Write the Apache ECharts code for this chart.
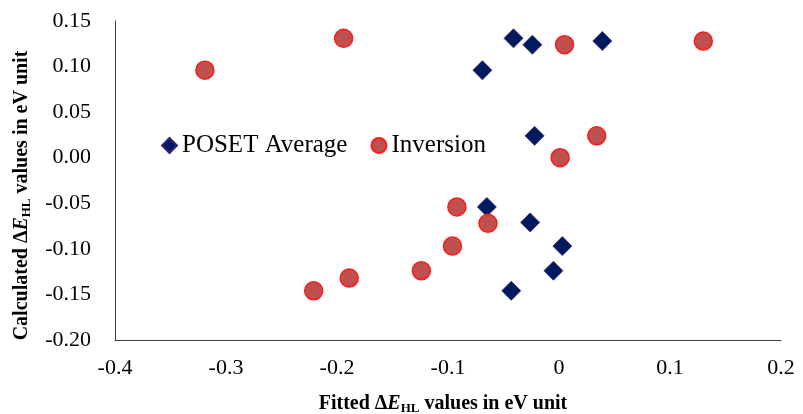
<!DOCTYPE html>
<html>
<head>
<meta charset="utf-8">
<script src="https://cdn.jsdelivr.net/npm/echarts@6/dist/echarts.min.js"></script>
<style>
  html, body { margin: 0; padding: 0; background: #fff; }
  #chart { width: 803px; height: 414px; }
</style>
</head>
<body>
<div id="chart"></div>
<script>
// data: fitted (x) and calculated (y) values
var posetX = [-0.041, -0.024, 0.039, -0.069, -0.022, -0.065, -0.026, 0.003, -0.005, -0.043];
var posetY = [0.131, 0.124, 0.128, 0.096, 0.024, -0.054, -0.071, -0.097, -0.124, -0.146];
var invX = [-0.319, -0.194, 0.005, 0.130, 0.034, 0.001, -0.092, -0.064, -0.096, -0.124, -0.189, -0.221];
var invY = [0.096, 0.131, 0.124, 0.128, 0.024, 0.000, -0.054, -0.072, -0.097, -0.124, -0.132, -0.146];

function pairs(xs, ys) {
    return xs.map(function (x, i) { return [x, ys[i]]; });
}

var serif = 'Liberation Serif';
var nameRich = {
    b: { fontFamily: serif, fontWeight: 'bold', fontSize: 20, color: '#000' },
    e: { fontFamily: serif, fontWeight: 'bold', fontStyle: 'italic', fontSize: 20, color: '#000' },
    s: { fontFamily: serif, fontWeight: 'bold', fontSize: 13, color: '#000', verticalAlign: 'bottom', padding: [9, 0, 0, 0] }
};

var chart = echarts.init(document.getElementById('chart'));

var option = {
    animation: false,
    grid: { left: 115, right: 22, top: 21, bottom: 74, containLabel: false, outerBoundsMode: 'none' },
    legend: {
        left: 156,
        top: 128,
        itemGap: 23,
        itemWidth: 15,
        itemHeight: 15,
        textStyle: { fontFamily: serif, fontSize: 25, color: '#000' },
        data: ['POSET Average', 'Inversion']
    },
    xAxis: {
        type: 'value',
        min: -0.4,
        max: 0.2,
        interval: 0.1,
        name: '{b|Fitted Δ}{e|E}{s|HL}{b| values in eV unit}',
        nameLocation: 'middle',
        nameGap: 53,
        nameTextStyle: { rich: nameRich, padding: [0, 10, 0, 0] },
        axisLine: { show: true, onZero: false, lineStyle: { color: '#404040', width: 1 } },
        axisTick: { show: false },
        splitLine: { show: false },
        axisLabel: {
            fontFamily: serif, fontSize: 22, color: '#000', margin: 17,
            formatter: function (v) { return v === 0 ? '0' : v.toFixed(1); }
        }
    },
    yAxis: {
        type: 'value',
        min: -0.2,
        max: 0.15,
        interval: 0.05,
        name: '{b|Calculated Δ}{e|E}{s|HL}{b| values in eV unit}',
        nameLocation: 'middle',
        nameGap: 82,
        nameRotate: 90,
        nameTextStyle: { rich: nameRich, padding: [0, 30, 0, 0] },
        axisLine: { show: true, onZero: false, lineStyle: { color: '#404040', width: 1 } },
        axisTick: { show: false },
        splitLine: { show: false },
        axisLabel: {
            fontFamily: serif, fontSize: 22, color: '#000', margin: 24,
            formatter: function (v) { return v.toFixed(2); }
        }
    },
    series: [
        {
            name: 'POSET Average',
            type: 'scatter',
            symbol: 'diamond',
            symbolSize: 19,
            itemStyle: { color: '#001a5e', opacity: 1, borderColor: '#3b1f7a', borderWidth: 0.8 },
            data: pairs(posetX, posetY)
        },
        {
            name: 'Inversion',
            type: 'scatter',
            symbol: 'circle',
            symbolSize: 18,
            itemStyle: { color: '#c0504d', opacity: 1, borderColor: '#ff1a1a', borderWidth: 1.5 },
            data: pairs(invX, invY)
        }
    ]
};

chart.setOption(option);
</script>
</body>
</html>
